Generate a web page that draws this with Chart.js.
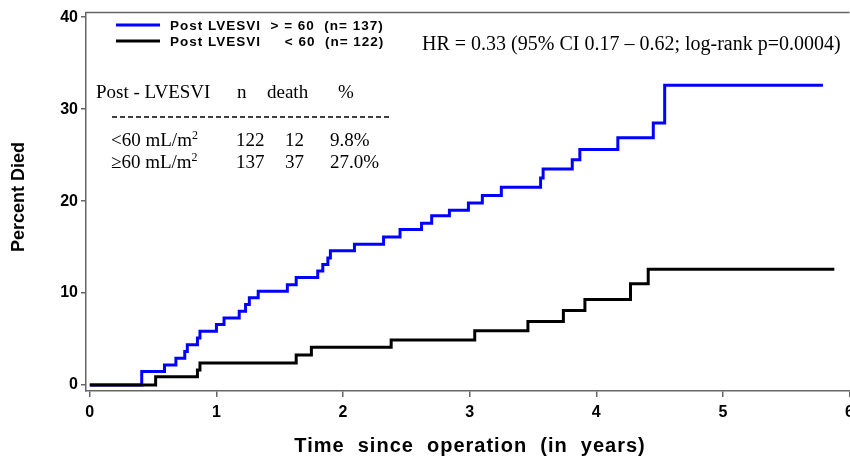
<!DOCTYPE html>
<html>
<head>
<meta charset="utf-8">
<script src="https://cdn.jsdelivr.net/npm/chart.js@4/dist/chart.umd.min.js"></script>
<style>
html, body { margin: 0; padding: 0; background: #fff; overflow: hidden; }
#wrap { width: 860px; height: 457px; }
</style>
</head>
<body>
<div id="wrap"><canvas id="kmChart" width="860" height="457"></canvas></div>
<script>
// Kaplan-Meier steps (years, percent died)
const highTimes = [0, 0.41, 0.59, 0.68, 0.75, 0.77, 0.85, 0.87, 1.00, 1.06, 1.18, 1.23, 1.26, 1.33, 1.56, 1.63, 1.80, 1.84, 1.88, 1.90, 2.09, 2.32, 2.45, 2.62, 2.70, 2.84, 2.99, 3.10, 3.25, 3.56, 3.58, 3.81, 3.87, 4.17, 4.45, 4.54, 5.79];
const highPct = [0, 1.46, 2.19, 2.92, 3.65, 4.38, 5.11, 5.84, 6.57, 7.30, 8.03, 8.76, 9.49, 10.2, 10.9, 11.7, 12.4, 13.1, 13.8, 14.6, 15.3, 16.1, 16.9, 17.6, 18.4, 19.0, 19.8, 20.6, 21.5, 22.5, 23.5, 24.5, 25.6, 26.9, 28.5, 32.6, 32.6];
const lowTimes = [0, 0.52, 0.85, 0.87, 1.63, 1.75, 2.38, 3.04, 3.46, 3.74, 3.91, 4.27, 4.41, 5.88];
const lowPct = [0, 0.9, 1.64, 2.4, 3.27, 4.1, 4.9, 5.9, 6.9, 8.1, 9.3, 11.0, 12.6, 12.6];

const xTicks = [0, 1, 2, 3, 4, 5, 6];
const yTicks = [0, 10, 20, 30, 40];
const seriesLabels = ['Post LVESVI  > = 60  (n= 137)', 'Post LVESVI     < 60  (n= 122)'];
const seriesColors = ['#0000ff', '#000000'];

const tableHeader = ['Post - LVESVI', 'n', 'death', '%'];
const tableGroups = ['<60', '\u226560'];
const tableN = ['122', '137'];
const tableDeaths = ['12', '37'];
const tablePct = ['9.8%', '27.0%'];
const hrText = 'HR = 0.33 (95% CI 0.17 \u2013 0.62; log-rank p=0.0004)';

function toPoints(xs, ys) {
    return xs.map(function (x, i) { return { x: x, y: ys[i] }; });
}

const axisGray = '#666666';
const sans = '"Liberation Sans", Arial, sans-serif';
const serif = '"Liberation Serif", "Times New Roman", serif';

const annotations = {
    id: 'annotations',
    afterDraw: function (chart) {
        const ctx = chart.ctx;
        const area = chart.chartArea;
        ctx.save();

        // top frame line
        ctx.strokeStyle = axisGray;
        ctx.lineWidth = 1.5;
        ctx.beginPath();
        ctx.moveTo(area.left, area.top);
        ctx.lineTo(area.right, area.top);
        ctx.stroke();

        // axis titles
        ctx.fillStyle = '#000';
        ctx.textAlign = 'center';
        ctx.textBaseline = 'middle';
        ctx.font = 'bold 20px ' + sans;
        ctx.letterSpacing = '1px';
        ctx.fillText('Time  since  operation  (in  years)', 470, 446);
        ctx.letterSpacing = '0px';
        ctx.save();
        ctx.translate(19, 197);
        ctx.rotate(-Math.PI / 2);
        ctx.font = 'bold 18px ' + sans;
        ctx.fillText('Percent Died', 0, 0);
        ctx.restore();

        // legend
        ctx.textAlign = 'left';
        ctx.font = 'bold 13.5px ' + sans;
        ctx.letterSpacing = '1px';
        seriesLabels.forEach(function (label, i) {
            const y = 25 + i * 16;
            ctx.strokeStyle = seriesColors[i];
            ctx.lineWidth = 3;
            ctx.beginPath();
            ctx.moveTo(116, y);
            ctx.lineTo(160, y);
            ctx.stroke();
            ctx.fillStyle = '#000';
            ctx.fillText(label, 170, y + 1);
        });
        ctx.letterSpacing = '0px';

        // HR text
        ctx.font = '20px ' + serif;
        ctx.fillText(hrText, 422, 45);

        // table
        const cols = [111, 236, 285, 330];
        ctx.font = '19px ' + serif;
        ctx.fillText(tableHeader[0], 96, 93);
        ctx.fillText(tableHeader[1], 237, 93);
        ctx.fillText(tableHeader[2], 267, 93);
        ctx.fillText(tableHeader[3], 338, 93);

        ctx.strokeStyle = '#000';
        ctx.lineWidth = 1.5;
        ctx.setLineDash([5, 3]);
        ctx.beginPath();
        ctx.moveTo(112, 117);
        ctx.lineTo(390, 117);
        ctx.stroke();
        ctx.setLineDash([]);

        tableGroups.forEach(function (g, i) {
            const y = 141 + i * 22;
            const base = g + ' mL/m';
            ctx.font = '19px ' + serif;
            ctx.fillText(base, cols[0], y);
            const w = ctx.measureText(base).width;
            ctx.font = '12px ' + serif;
            ctx.fillText('2', cols[0] + w, y - 5);
            ctx.font = '19px ' + serif;
            ctx.fillText(tableN[i], cols[1], y);
            ctx.fillText(tableDeaths[i], cols[2], y);
            ctx.fillText(tablePct[i], cols[3], y);
        });

        ctx.restore();
    }
};

const ctx = document.getElementById('kmChart').getContext('2d');
const kmChart = new Chart(ctx, {
    type: 'line',
    data: {
        datasets: [{
            label: seriesLabels[1],
            data: toPoints(lowTimes, lowPct),
            borderColor: seriesColors[1],
            order: 0
        }, {
            label: seriesLabels[0],
            data: toPoints(highTimes, highPct),
            borderColor: seriesColors[0],
            order: 1
        }]
    },
    options: {
        responsive: false,
        animation: false,
        events: [],
        layout: { padding: { top: 12, right: 8, left: 0, bottom: 0 } },
        elements: {
            line: { borderWidth: 3, stepped: true, tension: 0, fill: false },
            point: { radius: 0 }
        },
        plugins: { legend: { display: false }, tooltip: { enabled: false } },
        scales: {
            x: {
                type: 'linear',
                min: -0.03,
                max: 6,
                afterBuildTicks: function (scale) {
                    scale.ticks = xTicks.map(function (v) { return { value: v }; });
                },
                afterFit: function (scale) { scale.height = 66; },
                ticks: {
                    color: '#000',
                    padding: 6,
                    font: { family: sans, size: 16, weight: 'bold' }
                },
                grid: { drawOnChartArea: false, tickLength: 6, color: axisGray, lineWidth: 1.5 },
                border: { color: axisGray, width: 1.5 }
            },
            y: {
                min: -0.65,
                max: 40.5,
                afterBuildTicks: function (scale) {
                    scale.ticks = yTicks.map(function (v) { return { value: v }; });
                },
                afterFit: function (scale) { scale.width = 86; },
                ticks: {
                    color: '#000',
                    padding: 3,
                    font: { family: sans, size: 16, weight: 'bold' }
                },
                grid: { drawOnChartArea: false, tickLength: 5, color: axisGray, lineWidth: 1.5 },
                border: { color: axisGray, width: 1.5 }
            }
        }
    },
    plugins: [annotations]
});
</script>
</body>
</html>
